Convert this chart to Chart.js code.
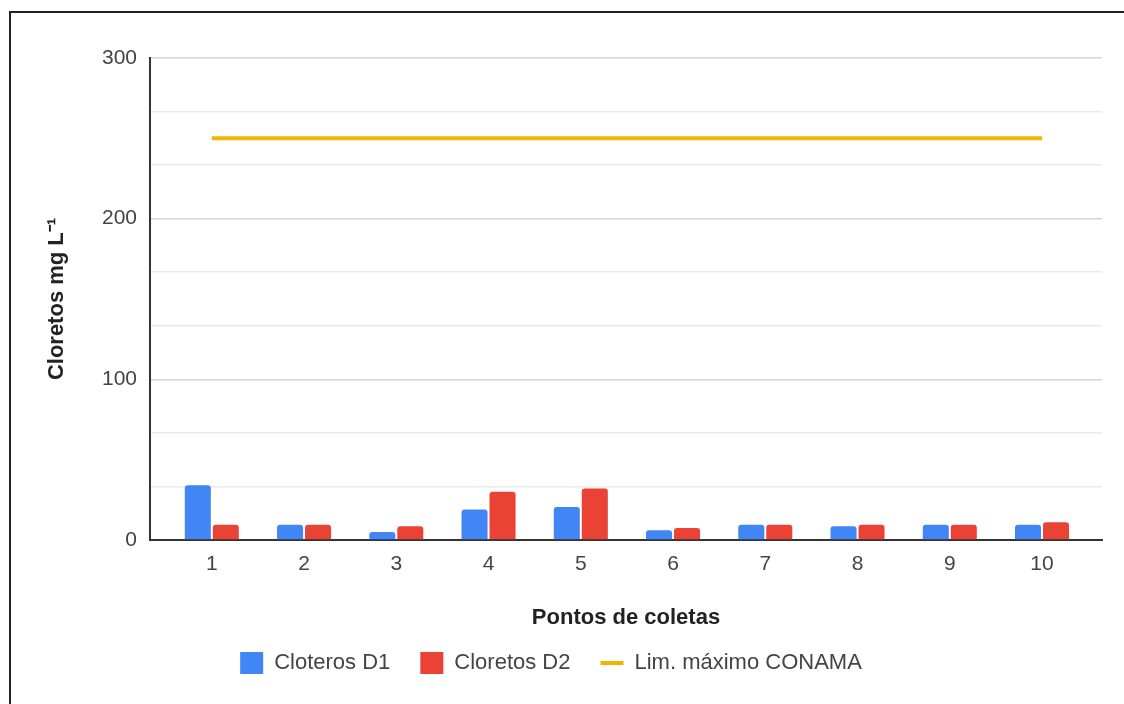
<!DOCTYPE html>
<html lang="pt">
<head>
<meta charset="utf-8">
<title>Cloretos por ponto de coleta</title>
<script src="https://cdn.jsdelivr.net/npm/chart.js@4/dist/chart.umd.min.js"></script>
<style>
  html, body { margin: 0; padding: 0; background: #fff; overflow: hidden; }
  #frame {
    position: absolute; left: 9px; top: 11px;
    width: 1200px; height: 800px;
    border: 2px solid #222;
  }
  #wrap { position: absolute; left: 0; top: 0; width: 1124px; height: 704px; }
</style>
</head>
<body>
<div id="frame"></div>
<div id="wrap"><canvas id="chart" width="1124" height="704"></canvas></div>
<script>
  // Pontos de coleta (eixo X)
  const pontos = [1, 2, 3, 4, 5, 6, 7, 8, 9, 10];
  // Cloretos em mg L-1, duas campanhas
  const cloretosD1 = [34, 9.5, 5, 19, 20.5, 6, 9.5, 8.5, 9.5, 9.5];
  const cloretosD2 = [9.5, 9.5, 8.5, 30, 32, 7.5, 9.5, 9.5, 9.5, 11];
  // Limite maximo da resolucao CONAMA
  const limiteConama = [250, 250, 250, 250, 250, 250, 250, 250, 250, 250];
  const yTicks = [0, 100, 200, 300];

  const FONT = 'Arial, "Liberation Sans", sans-serif';

  const toXY = (vals) => pontos.map((p, i) => ({ x: p, y: vals[i] }));

  function isMajor(v) {
    const r = Math.round(v);
    return Math.abs(v - r) < 1e-6 && yTicks.includes(r);
  }

  new Chart(document.getElementById('chart'), {
    type: 'bar',
    data: {
      datasets: [
        {
          label: 'Cloteros D1',
          data: toXY(cloretosD1),
          backgroundColor: '#4285F4',
          borderWidth: 0,
          borderRadius: 3,
          pointStyle: 'rect',
          categoryPercentage: 0.607,
          barPercentage: 0.93
        },
        {
          label: 'Cloretos D2',
          data: toXY(cloretosD2),
          backgroundColor: '#EA4335',
          borderWidth: 0,
          borderRadius: 3,
          pointStyle: 'rect',
          categoryPercentage: 0.607,
          barPercentage: 0.93
        },
        {
          type: 'line',
          label: 'Lim. máximo CONAMA',
          data: toXY(limiteConama),
          borderColor: '#F4B400',
          backgroundColor: '#F4B400',
          borderWidth: 4,
          pointRadius: 0,
          pointHoverRadius: 0,
          pointStyle: 'line'
        }
      ]
    },
    options: {
      responsive: false,
      animation: false,
      layout: { padding: { top: 58, right: 22, bottom: 20, left: 0 } },
      plugins: {
        tooltip: { enabled: false },
        legend: {
          position: 'bottom',
          labels: {
            usePointStyle: true,
            pointStyleWidth: 23,
            padding: 30,
            color: '#444',
            font: { family: FONT, size: 22 }
          }
        }
      },
      scales: {
        x: {
          type: 'linear',
          offset: false,
          min: 0.33,
          max: 10.65,
          afterFit: (scale) => { scale.height = 82; },
          grid: { display: false, drawTicks: false },
          border: { display: true, color: '#333', width: 2 },
          ticks: {
            stepSize: 1,
            includeBounds: false,
            padding: 12,
            color: '#444',
            font: { family: FONT, size: 21 },
            callback: (v) => String(v)
          },
          title: {
            display: true,
            text: 'Pontos de coletas',
            color: '#222',
            padding: { top: 0, bottom: -9 },
            font: { family: FONT, size: 22, weight: 'bold' }
          }
        },
        y: {
          min: 0,
          max: 300,
          afterFit: (scale) => { scale.width = 150; },
          grid: {
            drawTicks: false,
            lineWidth: 1.5,
            color: (ctx) => (ctx.tick && isMajor(ctx.tick.value)) ? '#d4d4d4' : '#ebebeb'
          },
          border: { display: true, color: '#333', width: 2 },
          ticks: {
            stepSize: 100 / 3,
            padding: 13,
            color: '#444',
            font: { family: FONT, size: 21 },
            callback: (v) => isMajor(v) ? String(Math.round(v)) : ''
          },
          title: {
            display: true,
            text: 'Cloretos mg L⁻¹',
            color: '#222',
            padding: { top: 44, bottom: 0 },
            font: { family: FONT, size: 22, weight: 'bold' }
          }
        }
      }
    }
  });
</script>
</body>
</html>
